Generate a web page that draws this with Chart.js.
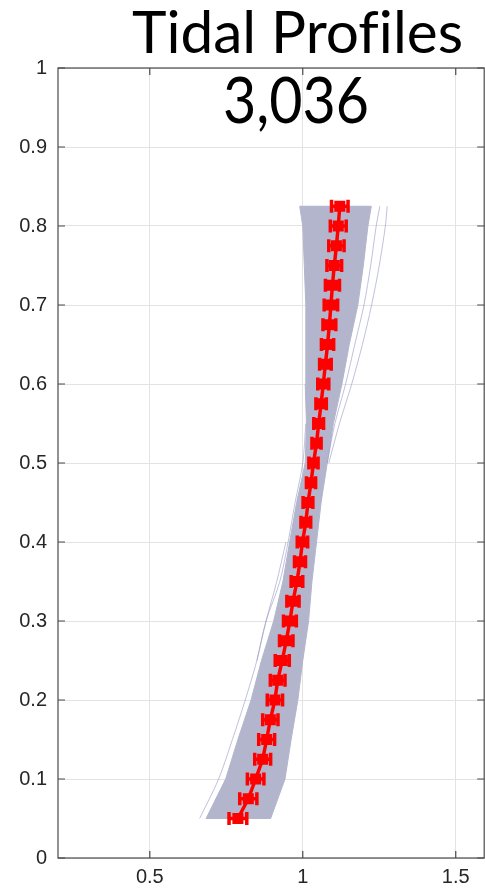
<!DOCTYPE html>
<html><head><meta charset="utf-8">
<script src="https://cdn.jsdelivr.net/npm/chart.js@4"></script>
<style>
html,body{margin:0;padding:0;background:#fff;overflow:hidden;width:485px;height:893px;}
#wrap{position:relative;width:485px;height:893px;overflow:hidden;}
canvas{position:absolute;left:0;top:0;}
.t{position:absolute;font-family:'Lato','Open Sans',sans-serif;color:#000;white-space:nowrap;line-height:1;transform-origin:left top;font-variant-ligatures:none;font-feature-settings:"liga" 0;}
</style></head><body>
<div id="wrap"><canvas id="c" width="492" height="893"></canvas>
<div class="t" id="t1">Tidal Profiles</div>
<div class="t" id="t2">3,036</div>
</div>
<script>
// ---- data ----
const depthLevels = [0.05,0.075,0.1,0.125,0.15,0.175,0.2,0.225,0.25,0.275,0.3,0.325,0.35,0.375,0.4,0.425,0.45,0.475,0.5,0.525,0.55,0.575,0.6,0.625,0.65,0.675,0.7,0.725,0.75,0.775,0.8,0.825];
const meanRatio = [0.788,0.822,0.846,0.869,0.882,0.894,0.909,0.918,0.933,0.946,0.958,0.968,0.981,0.991,0.999,1.010,1.017,1.027,1.035,1.045,1.052,1.060,1.067,1.074,1.081,1.087,1.092,1.097,1.103,1.110,1.116,1.121];
const meanErr = [0.029,0.028,0.027,0.026,0.026,0.025,0.025,0.024,0.023,0.022,0.021,0.020,0.019,0.018,0.017,0.016,0.016,0.015,0.015,0.015,0.016,0.017,0.018,0.019,0.020,0.021,0.022,0.023,0.024,0.025,0.026,0.027];

const bandY     = [0.05,0.1,0.15,0.2,0.25,0.3,0.35,0.4,0.45,0.5,0.55,0.6,0.65,0.7,0.75,0.8,0.825];
const bandLeft  = [0.684,0.748,0.788,0.831,0.865,0.905,0.935,0.957,0.980,1.008,1.012,1.008,1.010,1.010,1.005,1.000,0.990];
const bandRight = [0.895,0.942,0.962,0.984,1.000,1.019,1.030,1.045,1.060,1.080,1.100,1.128,1.152,1.180,1.198,1.213,1.224];

const outlierRightY = [0.5,0.55,0.6,0.65,0.7,0.75,0.8,0.825];
const outlierRight1 = [1.085,1.120,1.160,1.195,1.225,1.250,1.270,1.276];
const outlierRight2 = [1.080,1.105,1.140,1.170,1.200,1.222,1.240,1.252];
const outlierLeftY  = [0.05,0.1,0.15,0.2,0.25,0.3,0.35,0.4];
const outlierLeft1  = [0.663,0.725,0.770,0.812,0.850,0.880,0.915,0.945];
const outlierMidY   = [0.25,0.3,0.35,0.4,0.45,0.5,0.55];
const outlierMid1   = [0.850,0.880,0.925,0.952,0.975,1.000,1.010];

const xTicks = [0.5,1,1.5];
const xTickLabels = ['0.5','1','1.5'];
const yTicks = [0,0.1,0.2,0.3,0.4,0.5,0.6,0.7,0.8,0.9,1];
const yTickLabels = ['0','0.1','0.2','0.3','0.4','0.5','0.6','0.7','0.8','0.9','1'];

// ---- build ----
const pts = (xs, ys) => xs.map((v,i)=>({x:v,y:ys[i]}));
const bandPoly = pts(bandLeft,bandY).concat(pts(bandRight,bandY).reverse());
bandPoly.push({x:bandLeft[0],y:bandY[0]});

const thin = (data)=>({data, borderColor:'rgba(150,152,196,0.6)', borderWidth:1, pointRadius:0, fill:false, tension:0.3, order:2});

const errPlugin = {
  id:'errbars',
  afterDatasetsDraw(chart){
    const {ctx, scales:{x,y}} = chart;
    ctx.save();
    ctx.strokeStyle='#ff0000'; ctx.lineWidth=3.5;
    depthLevels.forEach((d,i)=>{
      const py=y.getPixelForValue(d);
      const x0=x.getPixelForValue(meanRatio[i]-meanErr[i]);
      const x1=x.getPixelForValue(meanRatio[i]+meanErr[i]);
      ctx.beginPath();
      ctx.moveTo(x0,py); ctx.lineTo(x1,py);
      ctx.moveTo(x0,py-6.5); ctx.lineTo(x0,py+6.5);
      ctx.moveTo(x1,py-6.5); ctx.lineTo(x1,py+6.5);
      ctx.stroke();
    });
    ctx.restore();
  }
};
const framePlugin = {
  id:'frame',
  afterDraw(chart){
    const {ctx, chartArea:a, scales:{x,y}} = chart;
    ctx.save();
    ctx.strokeStyle='#4a4a4a'; ctx.lineWidth=1.2;
    ctx.strokeRect(a.left, a.top, a.right-a.left, a.bottom-a.top);
    const L=7;
    ctx.beginPath();
    x.ticks.forEach(t=>{ const px=x.getPixelForValue(t.value);
      ctx.moveTo(px,a.bottom); ctx.lineTo(px,a.bottom-L);
      ctx.moveTo(px,a.top); ctx.lineTo(px,a.top+L); });
    y.ticks.forEach(t=>{ const py=y.getPixelForValue(t.value);
      ctx.moveTo(a.left,py); ctx.lineTo(a.left+L,py);
      ctx.moveTo(a.right,py); ctx.lineTo(a.right-L,py); });
    ctx.stroke();
    ctx.restore();
  }
};

new Chart(document.getElementById('c'), {
  type:'line',
  data:{ datasets:[
    {data:pts(meanRatio,depthLevels), borderColor:'#ff0000', borderWidth:3.5, pointStyle:'rect', pointRadius:7.8, pointBackgroundColor:'#ff0000', pointBorderWidth:0, fill:false, order:0},
    thin(pts(outlierRight1,outlierRightY)),
    thin(pts(outlierRight2,outlierRightY)),
    thin(pts(outlierLeft1,outlierLeftY)),
    thin(pts(outlierMid1,outlierMidY)),
    {data:bandPoly, borderColor:'#b3b5cc', borderWidth:1, backgroundColor:'#b3b5cc', pointRadius:0, fill:'shape', order:3}
  ]},
  options:{
    responsive:false, animation:false,
    layout:{padding:{top:68, right:4, left:0, bottom:0}},
    plugins:{legend:{display:false}, tooltip:{enabled:false}, title:{display:false}},
    events:[],
    scales:{
      x:{type:'linear', min:0.2, max:1.593,
        afterBuildTicks:s=>{ s.ticks = xTicks.map(v=>({value:v})); },
        afterFit:s=>{ s.height = 35; },
        grid:{color:'#e3e3e3', drawTicks:false}, border:{display:false},
        ticks:{padding:7, color:'#262626', font:{family:'Liberation Sans', size:20}, maxRotation:0,
          callback:(v,i)=>xTickLabels[i]}},
      y:{type:'linear', min:0, max:1,
        afterBuildTicks:s=>{ s.ticks = yTicks.map(v=>({value:v})); },
        afterFit:s=>{ s.width = 58; },
        grid:{color:'#e3e3e3', drawTicks:false}, border:{display:false},
        ticks:{padding:11, color:'#262626', font:{family:'Liberation Sans', size:20},
          callback:(v,i)=>yTickLabels[i]}}
    }
  },
  plugins:[errPlugin, framePlugin]
});

// ---- title text fitting ----
function place(id, size, left, top, width){
  const el=document.getElementById(id);
  el.style.fontSize=size+'px'; el.style.left=left+'px'; el.style.top=top+'px';
  const w=el.getBoundingClientRect().width;
  el.style.transform='scaleX('+(width/w)+')';
}
place('t1',59,132,1,331);
place('t2',64,223,67,146);
</script>
</body></html>
